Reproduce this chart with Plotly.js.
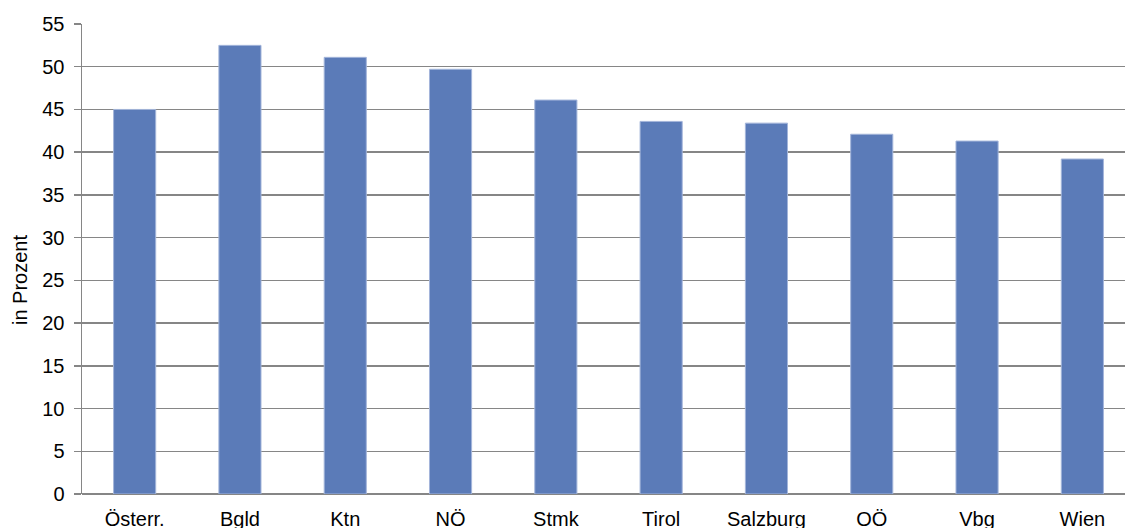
<!DOCTYPE html>
<html>
<head>
<meta charset="utf-8">
<script src="https://cdn.plot.ly/plotly-3.0.1.min.js"></script>
<style>
html,body{margin:0;padding:0;overflow:hidden;background:#fff;}
#chart{width:1135px;height:545px;}
</style>
</head>
<body>
<div id="chart"></div>
<script>
const categories = ["Österr.", "Bgld", "Ktn", "NÖ", "Stmk", "Tirol", "Salzburg", "OÖ", "Vbg", "Wien"];
const values = [45.0, 52.5, 51.1, 49.7, 46.1, 43.6, 43.4, 42.1, 41.3, 39.2];
const yTicks = [0, 5, 10, 15, 20, 25, 30, 35, 40, 45, 50, 55];
const yTitle = "in Prozent";

const trace = {
  type: "bar",
  x: categories,
  y: values,
  marker: {color: "#5b7bb8", line: {color: "#a3b5da", width: 1}},
  hoverinfo: "x+y"
};

const layout = {
  width: 1135,
  height: 545,
  margin: {l: 82, r: 0, t: 24, b: 51},
  paper_bgcolor: "#ffffff",
  plot_bgcolor: "#ffffff",
  bargap: 0.6,
  showlegend: false,
  font: {family: "Liberation Sans, Arial, sans-serif", size: 20, color: "#000"},
  xaxis: {
    type: "category",
    showgrid: false,
    showline: false,
    ticks: "",
    zeroline: false,
    tickfont: {size: 20},
    ticklabelstandoff: 11
  },
  yaxis: {
    range: [0, 55],
    tickvals: yTicks,
    ticktext: yTicks.map(String),
    showgrid: true,
    gridcolor: "#868686",
    gridwidth: 1.5,
    zeroline: true,
    zerolinecolor: "#868686",
    zerolinewidth: 1.5,
    showline: true,
    linecolor: "#868686",
    linewidth: 1.5,
    ticks: "outside",
    ticklen: 7,
    tickcolor: "#868686",
    tickwidth: 1.5,
    tickfont: {size: 20},
    ticklabelstandoff: 5
  },
  annotations: [{
    text: yTitle,
    textangle: -90,
    xref: "paper", yref: "paper",
    x: -(82 - 20) / 1053, y: (494 - 280) / 470,
    xanchor: "center", yanchor: "middle",
    showarrow: false,
    font: {size: 20, color: "#000"}
  }]
};

Plotly.newPlot("chart", [trace], layout, {displayModeBar: false, staticPlot: true});
</script>
</body>
</html>
